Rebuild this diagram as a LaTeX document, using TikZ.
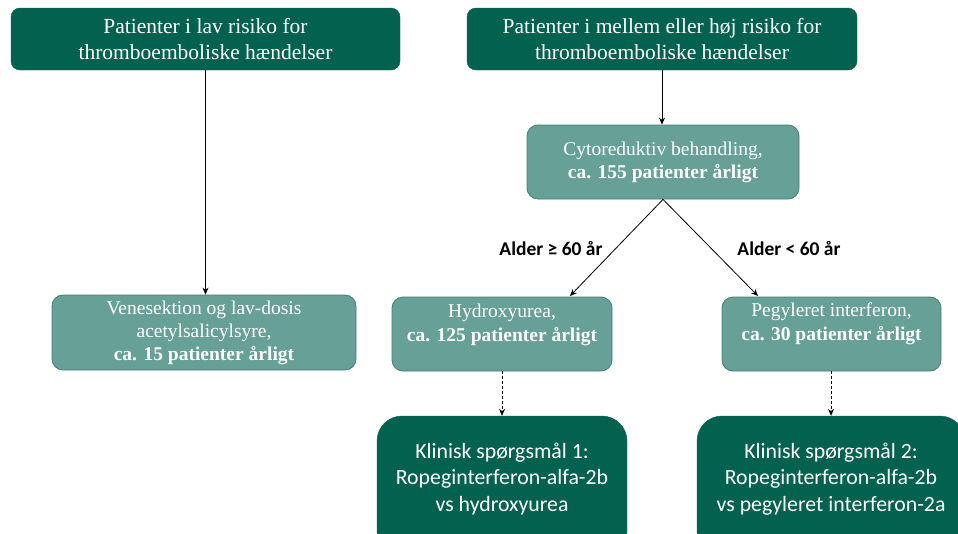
\documentclass[tikz,border=0pt]{standalone}
\usepackage{fontspec}
\setmainfont{Liberation Serif}
\newfontfamily\calib{Carlito}
\usetikzlibrary{arrows.meta,calc}
\definecolor{darkgr}{HTML}{03614F}
\definecolor{lightgr}{HTML}{66A096}
\definecolor{lightbd}{HTML}{44806F}
\tikzset{
  darkbox/.style={draw=darkgr, fill=darkgr, rounded corners=9pt, text=white, align=center, inner sep=0pt, font=\fontsize{21.5}{26}\selectfont},
  lightbox/.style={draw=lightbd, line width=0.8pt, fill=lightgr, rounded corners=11pt, text=white, align=center, inner sep=0pt, font=\fontsize{19.5}{23}\selectfont},
  qbox/.style={draw=darkgr, fill=darkgr, rounded corners=25pt, text=white, align=center, inner sep=0pt},
  boxtext/.style={text=white, align=center, inner sep=0pt, font=\fontsize{19.5}{24}\selectfont},
  qtext/.style={text=white, align=center, inner sep=0pt, font=\calib\fontsize{21.8}{26.5}\selectfont},
  conn/.style={draw=black, line width=0.8pt, -{Stealth[length=7pt,width=6pt]}},
  dconn/.style={conn, dash pattern=on 3pt off 2pt},
  lbl/.style={font=\calib\bfseries\fontsize{19.5}{22}\selectfont, inner sep=0pt}
}
\begin{document}
\begin{tikzpicture}[x=1pt,y=-1pt]
\useasboundingbox (0,0) rectangle (958,533);
\node[darkbox, minimum width=389pt, minimum height=62pt] (tl) at (205.5,39) {Patienter i lav risiko for\\thromboemboliske hændelser};
\node[darkbox, minimum width=390pt, minimum height=62pt] (tr) at (662,39) {Patienter i mellem eller høj risiko for\\thromboemboliske hændelser};
\node[lightbox, minimum width=272pt, minimum height=74pt] (cy) at (663,162) {Cytoreduktiv behandling,\\\textbf{ca. 155 patienter årligt}};
\node[lightbox, minimum width=304pt, minimum height=75pt] (ve) at (204,332.5) {Venesektion og lav-dosis\\acetylsalicylsyre,\\\textbf{ca. 15 patienter årligt}};
\node[lightbox, minimum width=220pt, minimum height=74pt] (hy) at (502,334) {};
\node[boxtext] (hyt) at (502,324.5) {Hydroxyurea,\\\textbf{ca. 125 patienter årligt}};
\node[lightbox, minimum width=219pt, minimum height=74pt] (pe) at (831.5,334) {};
\node[boxtext] (pet) at (831.5,324) {Pegyleret interferon,\\\textbf{ca. 30 patienter årligt}};
\node[qbox, minimum width=250pt, minimum height=140pt] (k1) at (502,486) {};
\node[qtext] (k1t) at (502,479) {Klinisk spørgsmål 1:\\Ropeginterferon-alfa-2b\\vs hydroxyurea};
\node[qbox, minimum width=268pt, minimum height=140pt] (k2) at (831,486) {};
\node[qtext] (k2t) at (831,479) {Klinisk spørgsmål 2:\\Ropeginterferon-alfa-2b\\vs pegyleret interferon-2a};
\node[lbl] (la) at (551,249) {Alder ≥ 60 år};
\node[lbl] (lb) at (789,249) {Alder < 60 år};
\coordinate (hl) at (570,296);
\coordinate (pr) at (758,296);
\draw[conn] (tl.south) -- (tl.south |- ve.north);
\draw[conn] (tr.south) -- (tr.south |- cy.north);
\draw[conn] (cy.south) -- (hl);
\draw[conn] (cy.south) -- (pr);
\draw[dconn] (hy.south -| k1.north) -- (k1.north);
\draw[dconn] (pe.south -| k2.north) -- (k2.north);
\end{tikzpicture}
\end{document}
